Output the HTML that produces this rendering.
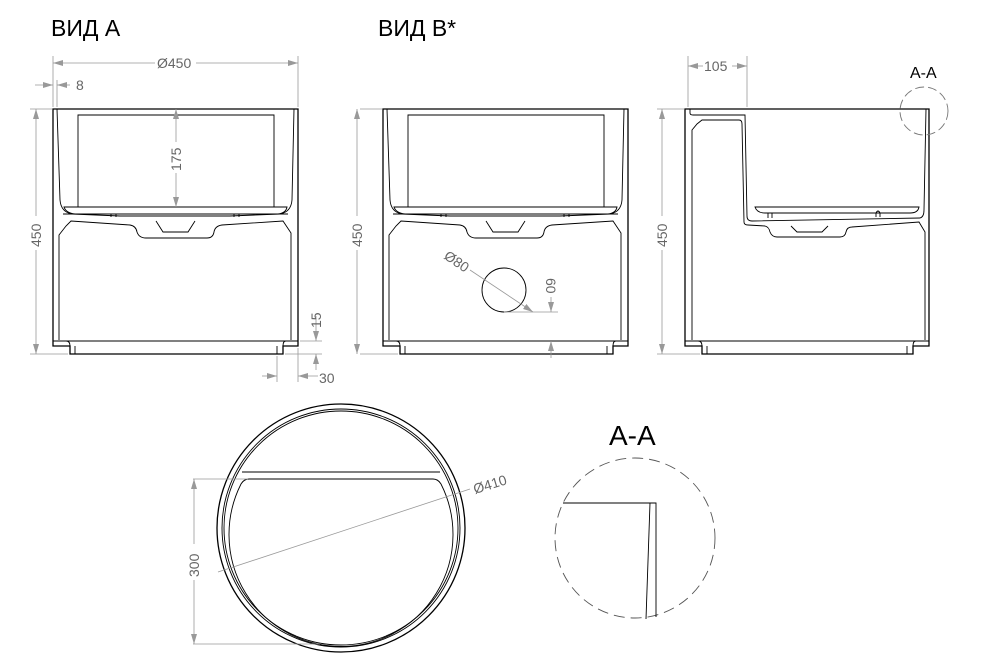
<!DOCTYPE html>
<html><head><meta charset="utf-8"><style>
html,body{margin:0;padding:0;background:#fff}
svg{display:block}
.o{fill:none;stroke:#000;stroke-width:1.3}
.t{fill:none;stroke:#000;stroke-width:0.9}
.d{fill:none;stroke:#999;stroke-width:0.8}
.dt{font-family:"Liberation Sans",sans-serif;font-size:14px;fill:#666}
.ti{font-family:"Liberation Sans","Noto Sans CJK SC",sans-serif;font-size:23px;fill:#000}
</style></head><body>
<svg width="989" height="672" viewBox="0 0 989 672" xmlns="http://www.w3.org/2000/svg">
<defs>
<marker id="a" viewBox="0 0 10 6" refX="10" refY="3" markerWidth="10" markerHeight="6" orient="auto-start-reverse" markerUnits="userSpaceOnUse"><path d="M0,0 L10,3 L0,6 z" fill="#999"/></marker>
<g id="front">
  <path class="o" d="M53,109 L298,109 L298,346 L283,346 L283,354 L70,354 L70,346 L53,346 Z"/>
  <line class="t" x1="53" y1="341" x2="298" y2="341"/>
  <path class="t" d="M58,341 L66,341 Q70,341 70,346"/>
  <path class="t" d="M75,354 L75,346 M277,354 L277,346"/>
  <path class="t" d="M286,341 Q283,341 283,346"/>
  <path class="t" d="M57,109 L60,200 Q61,212 72,214 L120,216 L230,216 L280,214 Q291,212 292,200 L294,109"/>
  <path class="t" d="M78,207 L78,115 L274,115 L274,207"/>
  <path class="t" d="M64,207 L287,207 Q286,213 278,214 L75,214 Q66,213 64,207 Z"/>
  <line class="t" x1="63" y1="214" x2="288" y2="214"/>
  <path class="t" d="M111,214 L111,217 M116,214 L116,217 M234,214 L234,217 M239,214 L239,217"/>
  <path class="t" d="M59,340 L59,235 L66,226 L71,221 L130,225 Q136,226 137,232 Q139,238 146,238 L207,238 Q213,238 214,232 Q215,226 222,225 L283,221 L291,233 L291,340"/>
  <path class="t" d="M156,221 L163,232 L188,232 L195,221"/>
</g>
</defs>

<text class="ti" x="51" y="36">ВИД А</text>
<text class="ti" x="378" y="36">ВИД В*</text>

<use href="#front"/>
<line class="d" x1="53" y1="56" x2="53" y2="107"/>
<line class="d" x1="298" y1="56" x2="298" y2="107"/>
<line class="d" x1="53" y1="63" x2="155" y2="63" marker-start="url(#a)"/>
<line class="d" x1="196" y1="63" x2="298" y2="63" marker-end="url(#a)"/>
<text class="dt" x="157" y="68">Ø450</text>
<line class="d" x1="57" y1="80" x2="57" y2="107"/>
<line class="d" x1="35" y1="85" x2="53" y2="85" marker-end="url(#a)"/>
<line class="d" x1="57" y1="85" x2="70" y2="85" marker-start="url(#a)"/>
<text class="dt" x="76" y="90">8</text>
<line class="d" x1="30" y1="109" x2="52" y2="109"/>
<line class="d" x1="30" y1="354" x2="68" y2="354"/>
<line class="d" x1="36" y1="109" x2="36" y2="216" marker-start="url(#a)"/>
<line class="d" x1="36" y1="250" x2="36" y2="354" marker-end="url(#a)"/>
<text class="dt" transform="translate(41,247) rotate(-90)">450</text>
<line class="d" x1="176" y1="109" x2="176" y2="142" marker-start="url(#a)"/>
<line class="d" x1="176" y1="173" x2="176" y2="207" marker-end="url(#a)"/>
<text class="dt" transform="translate(181,171) rotate(-90)">175</text>
<line class="d" x1="300" y1="341" x2="322" y2="341"/>
<line class="d" x1="285" y1="354" x2="322" y2="354"/>
<line class="d" x1="316" y1="316" x2="316" y2="341" marker-end="url(#a)"/>
<line class="d" x1="316" y1="354" x2="316" y2="370" marker-start="url(#a)"/>
<text class="dt" transform="translate(321,328) rotate(-90)">15</text>
<line class="d" x1="277" y1="356" x2="277" y2="382"/>
<line class="d" x1="298" y1="348" x2="298" y2="382"/>
<line class="d" x1="262" y1="376" x2="277" y2="376" marker-end="url(#a)"/>
<line class="d" x1="298" y1="376" x2="318" y2="376" marker-start="url(#a)"/>
<text class="dt" x="319" y="383">30</text>

<use href="#front" transform="translate(330,0)"/>
<circle class="t" cx="504" cy="290" r="22"/>
<line class="d" x1="360" y1="109" x2="382" y2="109"/>
<line class="d" x1="360" y1="354" x2="398" y2="354"/>
<line class="d" x1="357" y1="109" x2="357" y2="216" marker-start="url(#a)"/>
<line class="d" x1="357" y1="250" x2="357" y2="354" marker-end="url(#a)"/>
<text class="dt" transform="translate(362,247) rotate(-90)">450</text>
<line class="d" x1="470" y1="270" x2="533" y2="312" marker-end="url(#a)"/>
<line class="d" x1="504" y1="312" x2="558" y2="312"/>
<text class="dt" transform="translate(443,258) rotate(34)">Ø80</text>
<line class="d" x1="551" y1="297" x2="551" y2="312" marker-end="url(#a)"/>
<line class="d" x1="551" y1="341" x2="551" y2="358" marker-start="url(#a)"/>
<text class="dt" transform="translate(546,278) rotate(90)">60</text>

<path class="o" d="M685,109 L929,109 L929,346 L913,346 L913,354 L702,354 L702,346 L685,346 Z"/>
<line class="t" x1="685" y1="341" x2="929" y2="341"/>
<path class="t" d="M690,341 L698,341 Q702,341 702,346 M707,354 L707,346 M907,354 L907,346 M916,341 Q913,341 913,346"/>
<path class="t" d="M690,109 L690,113 Q690,115 693,115 L745,115 L747,216 Q747,221 752,221 L920,218 Q924,217 924,210 L926,109"/>
<path class="t" d="M692,340 L692,130 L697,124 L702,120 L739,120 Q742,120 742,124 L744,222 Q744,225 748,225 L765,226 Q769,227 770,232 Q772,237 777,237 L840,237 Q845,237 846,232 Q847,227 852,227 L919,222 L925,232 L925,340"/>
<path class="t" d="M755,207 L919,207 Q918,213 910,213 L765,213 Q757,213 755,207 Z"/>
<path class="t" d="M768,213 L768,218 M772,213 L772,218 M876,217 L876,213 Q878,209 880,213 L880,217"/>
<path class="t" d="M791,226 L797,232 L822,232 L828,226"/>
<line class="d" x1="688" y1="56" x2="688" y2="107"/>
<line class="d" x1="747" y1="56" x2="747" y2="107"/>
<line class="d" x1="688" y1="66" x2="703" y2="66" marker-start="url(#a)"/>
<line class="d" x1="732" y1="66" x2="747" y2="66" marker-end="url(#a)"/>
<text class="dt" x="704" y="71">105</text>
<line class="d" x1="657" y1="109" x2="684" y2="109"/>
<line class="d" x1="657" y1="354" x2="700" y2="354"/>
<line class="d" x1="662" y1="109" x2="662" y2="216" marker-start="url(#a)"/>
<line class="d" x1="662" y1="250" x2="662" y2="354" marker-end="url(#a)"/>
<text class="dt" transform="translate(667,247) rotate(-90)">450</text>
<circle cx="924" cy="111" r="24" fill="none" stroke="#777" stroke-width="0.9" stroke-dasharray="9,4"/>
<text x="910" y="78" font-family="Liberation Sans,sans-serif" font-size="16" fill="#000">A-A</text>

<circle class="o" cx="341" cy="528" r="124"/>
<circle class="t" cx="341" cy="528" r="119"/>
<circle class="t" cx="341" cy="528" r="117"/>
<path class="t" d="M242,472 L440,472"/>
<path class="t" d="M249,479 L433,479 Q438,479 441,484 A112,112 0 1 1 241,484 Q244,479 249,479 Z"/>
<line class="d" x1="193" y1="479" x2="248" y2="479"/>
<line class="d" x1="193" y1="644" x2="320" y2="644"/>
<line class="d" x1="194" y1="479" x2="194" y2="544" marker-start="url(#a)"/>
<line class="d" x1="194" y1="580" x2="194" y2="644" marker-end="url(#a)"/>
<text class="dt" transform="translate(199,577) rotate(-90)">300</text>
<line class="d" x1="218" y1="572" x2="470" y2="489"/>
<text class="dt" transform="translate(475,494) rotate(-17)">Ø410</text>

<text x="609" y="445" font-family="Liberation Sans,sans-serif" font-size="28" fill="#000">A-A</text>
<circle cx="635" cy="538" r="80" fill="none" stroke="#555" stroke-width="0.9" stroke-dasharray="11,6"/>
<path class="t" d="M563,503 L656,503 L656,617 M650,503 L646,619"/>
</svg>
</body></html>
